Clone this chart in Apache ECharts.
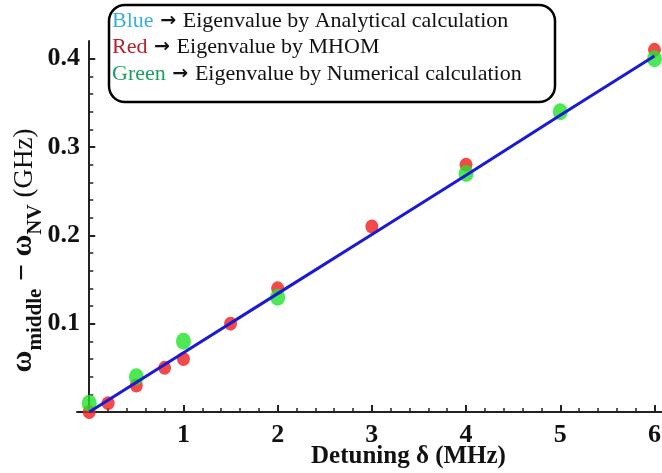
<!DOCTYPE html>
<html>
<head>
<meta charset="utf-8">
<script src="https://cdn.jsdelivr.net/npm/echarts@6/dist/echarts.min.js"></script>
<style>
  html, body { margin: 0; padding: 0; background: #fff; }
  #chart { width: 662px; height: 473px; }
</style>
</head>
<body>
<div id="chart"></div>
<script>
// Detuning (MHz) and eigenvalue shift (GHz)
const mhomX = [0, 0.2, 0.5, 0.8, 1, 1.5, 2, 3, 4, 6];
const mhomY = [0, 0.01, 0.03, 0.05, 0.06, 0.10, 0.14, 0.21, 0.28, 0.41];
const numX = [0, 0.5, 1, 2, 4, 5, 6];
const numY = [0.01, 0.04, 0.08, 0.13, 0.27, 0.34, 0.40];
const anaX = [0, 1, 2, 3, 4, 5, 6];
const anaY = [0, 0.067, 0.134, 0.201, 0.268, 0.336, 0.403];

const xMajorTicks = [1, 2, 3, 4, 5, 6];
const xMinorTicks = [0.2, 0.4, 0.6, 0.8, 1.2, 1.4, 1.6, 1.8, 2.2, 2.4, 2.6, 2.8,
  3.2, 3.4, 3.6, 3.8, 4.2, 4.4, 4.6, 4.8, 5.2, 5.4, 5.6, 5.8];
const yMajorTicks = [0.1, 0.2, 0.3, 0.4];
const yMinorTicks = [0.02, 0.04, 0.06, 0.08, 0.12, 0.14, 0.16, 0.18,
  0.22, 0.24, 0.26, 0.28, 0.32, 0.34, 0.36, 0.38];

const legendLines = [
  ['Blue', '#3aaee0', 'Eigenvalue by Analytical calculation'],
  ['Red', '#b8202c', 'Eigenvalue by MHOM'],
  ['Green', '#1c9e62', 'Eigenvalue by Numerical calculation']
];

const pair = (xs, ys) => xs.map((x, i) => [x, ys[i]]);

const SERIF = '"Liberation Serif", "DejaVu Serif", serif';
const AXIS_COLOR = '#222';
const X_MIN = -0.13, X_MAX = 6.08, Y_MIN = 0, Y_MAX = 0.42;

const chart = echarts.init(document.getElementById('chart'), null, { renderer: 'canvas' });

const baseX = {
  type: 'value', min: X_MIN, max: X_MAX, position: 'bottom',
  splitLine: { show: false },
  axisLine: { onZero: true }
};
const baseY = {
  type: 'value', min: Y_MIN, max: Y_MAX, position: 'left',
  splitLine: { show: false },
  axisLine: { onZero: true }
};

const legendGraphics = [{
  type: 'rect',
  shape: { x: 109, y: 5, width: 446, height: 97, r: 16 },
  style: { fill: '#fff', stroke: '#000', lineWidth: 2.5 },
  z: 10
}].concat(legendLines.map((l, i) => ({
  type: 'text',
  left: 112,
  top: 10 + i * 26.5,
  z: 11,
  style: {
    text: '{c|' + l[0] + '}{a| \u2192 }{t|' + l[2] + '}',
    rich: {
      c: { fill: l[1], fontFamily: SERIF, fontSize: 22 },
      a: { fill: '#111', fontFamily: '"DejaVu Sans", sans-serif', fontSize: 19, fontWeight: 'bold' },
      t: { fill: '#111', fontFamily: SERIF, fontSize: 22 }
    }
  }
})));

chart.setOption({
  animation: false,
  backgroundColor: '#fff',
  grid: { left: 77, top: 41, width: 585, height: 371, containLabel: false, outerBoundsMode: 'none' },
  xAxis: [
    Object.assign({}, baseX, {
      name: 'Detuning \u03b4 (MHz)',
      nameLocation: 'middle',
      nameGap: 32,
      nameMoveOverlap: false,
      nameTextStyle: { fontFamily: SERIF, fontSize: 25, fontWeight: 'bold', color: '#111', padding: [0, 0, 0, 78] },
      axisLine: { onZero: true, lineStyle: { color: AXIS_COLOR, width: 2 } },
      axisTick: { show: true, inside: true, length: 7, customValues: xMajorTicks, lineStyle: { color: AXIS_COLOR, width: 2 } },
      axisLabel: { show: true, customValues: xMajorTicks, margin: 10, fontFamily: SERIF, fontSize: 26, fontWeight: 'bold', color: '#111' }
    }),
    Object.assign({}, baseX, {
      axisLine: { show: false, onZero: true },
      axisTick: { show: true, inside: true, length: 4, customValues: xMinorTicks, lineStyle: { color: AXIS_COLOR, width: 1.5 } },
      axisLabel: { show: false }
    })
  ],
  yAxis: [
    Object.assign({}, baseY, {
      name: '{w|\u03c9}{s|middle}{w| \u2212 \u03c9}{s|NV}{p| (GHz)}',
      nameLocation: 'middle',
      nameRotate: 90,
      nameGap: 39,
      nameMoveOverlap: false,
      nameTextStyle: {
        padding: [0, 48, 0, 0],
        rich: {
          w: { fontFamily: SERIF, fontSize: 30, fontWeight: 'bold', color: '#111', lineHeight: 32, verticalAlign: 'bottom' },
          s: { fontFamily: SERIF, fontSize: 21, fontWeight: 'bold', color: '#111', lineHeight: 32, verticalAlign: 'bottom', padding: [0, 0, -8, 0] },
          p: { fontFamily: SERIF, fontSize: 27, color: '#111', lineHeight: 32, verticalAlign: 'bottom' }
        }
      },
      axisLine: { onZero: true, lineStyle: { color: AXIS_COLOR, width: 2 } },
      axisTick: { show: true, inside: true, length: 6, customValues: yMajorTicks, lineStyle: { color: AXIS_COLOR, width: 2 } },
      axisLabel: { show: true, customValues: yMajorTicks, margin: -3, fontFamily: SERIF, fontSize: 26, fontWeight: 'bold', color: '#111' }
    }),
    Object.assign({}, baseY, {
      axisLine: { show: false, onZero: true },
      axisTick: { show: true, inside: true, length: 4, customValues: yMinorTicks, lineStyle: { color: AXIS_COLOR, width: 1.5 } },
      axisLabel: { show: false }
    })
  ],
  series: [
    {
      name: 'MHOM', type: 'scatter', xAxisIndex: 0, yAxisIndex: 0,
      data: pair(mhomX, mhomY), symbol: 'circle', symbolSize: [13, 14], clip: false,
      itemStyle: { color: '#f01c1c' }, z: 2
    },
    {
      name: 'Numerical', type: 'scatter', xAxisIndex: 0, yAxisIndex: 0,
      data: pair(numX, numY), symbol: 'circle', symbolSize: [15, 17], clip: false,
      itemStyle: { color: '#22e22a' }, z: 3
    },
    {
      name: 'Analytical', type: 'line', xAxisIndex: 0, yAxisIndex: 0,
      data: pair(anaX, anaY), showSymbol: false, clip: false,
      lineStyle: { color: '#1a1ad6', width: 3 }, z: 4
    }
  ],
  graphic: legendGraphics
});
</script>
</body>
</html>
